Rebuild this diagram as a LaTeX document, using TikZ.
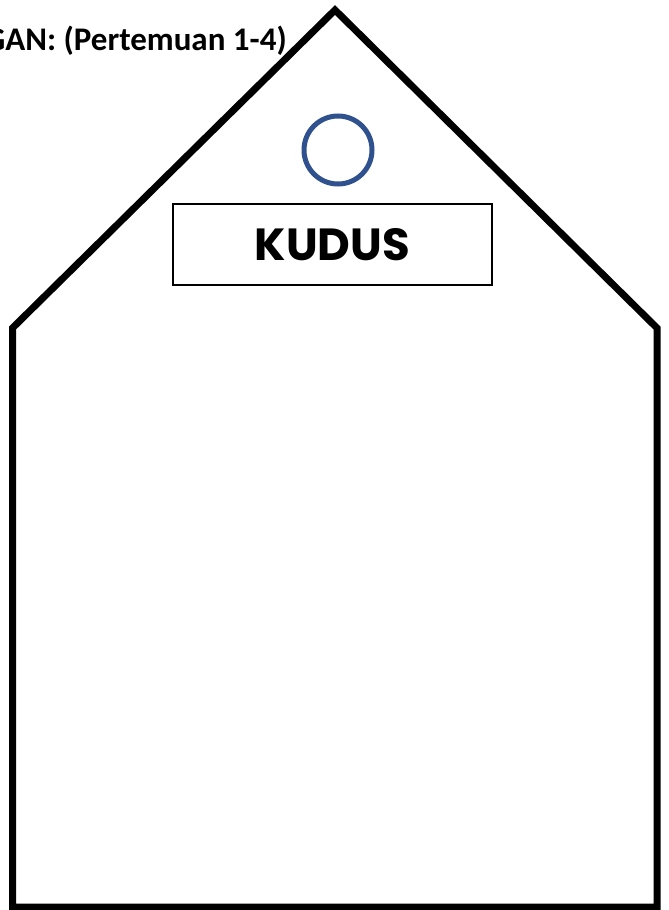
\documentclass[tikz,border=0pt]{standalone}
\usepackage{fontspec}
\setmainfont{Carlito}
\newfontfamily\kudusfont{Poppins}
\usepackage{tikz}
\usetikzlibrary{positioning}

\definecolor{ringblue}{HTML}{2F528F}

\begin{document}
\begin{tikzpicture}[
  x=1pt, y=-1pt,
  house/.style={draw, line width=7pt, miter limit=10},
  namebox/.style={draw, line width=1.5pt, minimum width=319pt,
                  minimum height=81pt, inner sep=0pt,
                  font=\kudusfont\bfseries\fontsize{45}{45}\selectfont},
  ring/.style={circle, draw=ringblue, line width=5pt,
               minimum size=68pt, inner sep=0pt},
  title/.style={inner sep=0pt, font=\bfseries\fontsize{33}{33}\selectfont}
]
  \useasboundingbox (0,0) rectangle (669,910);
  % outline of the house
  \coordinate (apex) at (335,10);
  \coordinate (ls) at (12.5,328);
  \coordinate (rs) at (657,328);
  \coordinate (lb) at (12.5,907);
  \coordinate (rb) at (657,907);
  \draw[house] (lb) -- (ls) -- (apex) -- (rs) -- (rb) -- cycle;
  % label and ring
  \node[title, anchor=base east] (head) at (287,50) {GAN: (Pertemuan 1-4)};
  \node[namebox] (kudus) at (332.5,244.5) {KUDUS};
  \node[ring] (hole) at (338,150) {};
\end{tikzpicture}
\end{document}
